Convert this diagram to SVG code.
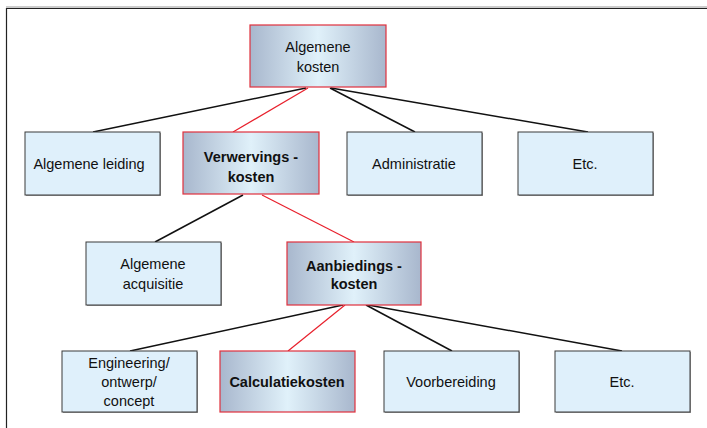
<svg xmlns="http://www.w3.org/2000/svg" width="707" height="428" viewBox="0 0 707 428">
  <defs>
    <linearGradient id="steel" x1="0" y1="0" x2="1" y2="0">
      <stop offset="0" stop-color="#a8b7cd"/>
      <stop offset="0.5" stop-color="#e0f1fa"/>
      <stop offset="1" stop-color="#a8b7cd"/>
    </linearGradient>
  </defs>
  <style>
    .plain { fill: #dff0fb; stroke: #3a3a3a; stroke-width: 1; }
    .hi { fill: url(#steel); stroke: #e0303c; stroke-width: 1.2; }
    .shadow { fill: #9a9a9a; }
    text { font-family: "Liberation Sans", Arial, sans-serif; font-size: 14.5px; fill: #111; text-anchor: middle; }
    .b { font-weight: bold; }
    .k { stroke: #111; stroke-width: 1.5; fill: none; }
    .r { stroke: #e8202c; stroke-width: 1.2; fill: none; }
  </style>
  <rect width="707" height="428" fill="#ffffff"/>
  <!-- frame -->
  <line x1="6" y1="7" x2="707" y2="7" stroke="#999" stroke-width="1"/>
  <line x1="6" y1="8.5" x2="707" y2="8.5" stroke="#222" stroke-width="1.2"/>
  <line x1="6.5" y1="8" x2="6.5" y2="428" stroke="#222" stroke-width="1.2"/>

  <g id="connectors">
    <line class="k" x1="306" y1="88" x2="93" y2="132"/>
    <line class="r" x1="308" y1="88" x2="233" y2="132"/>
    <line class="k" x1="330" y1="88" x2="415" y2="132"/>
    <line class="k" x1="331" y1="88" x2="588" y2="132"/>
    <line class="k" x1="243" y1="195" x2="155" y2="242"/>
    <line class="r" x1="262" y1="195" x2="354" y2="242"/>
    <line class="k" x1="343" y1="305" x2="130" y2="351"/>
    <line class="r" x1="345" y1="305" x2="288" y2="351"/>
    <line class="k" x1="366" y1="305" x2="452" y2="351"/>
    <line class="k" x1="368" y1="305" x2="622" y2="351"/>
  </g>

  <g id="algemene-kosten">
    <rect class="hi" x="250" y="25" width="136" height="62"/>
    <text x="318" y="52">Algemene</text>
    <text x="318" y="72">kosten</text>
  </g>

  <g id="algemene-leiding">
    <rect class="shadow" x="26" y="133" width="135" height="63"/>
    <rect class="plain" x="25" y="132" width="135" height="63"/>
    <text x="89" y="169">Algemene leiding</text>
  </g>

  <g id="verwervingskosten">
    <rect class="hi" x="183" y="132" width="136" height="62"/>
    <text class="b" x="251" y="162">Verwervings -</text>
    <text class="b" x="251" y="182">kosten</text>
  </g>

  <g id="administratie">
    <rect class="shadow" x="348" y="133" width="135" height="63"/>
    <rect class="plain" x="347" y="132" width="135" height="63"/>
    <text x="414" y="169">Administratie</text>
  </g>

  <g id="etc-1">
    <rect class="shadow" x="519" y="133" width="135" height="63"/>
    <rect class="plain" x="518" y="132" width="135" height="63"/>
    <text x="585" y="169">Etc.</text>
  </g>

  <g id="algemene-acquisitie">
    <rect class="shadow" x="87" y="243" width="135" height="63"/>
    <rect class="plain" x="86" y="242" width="135" height="63"/>
    <text x="153" y="269">Algemene</text>
    <text x="153" y="289">acquisitie</text>
  </g>

  <g id="aanbiedingskosten">
    <rect class="hi" x="287" y="242" width="134" height="63"/>
    <text class="b" x="354" y="271">Aanbiedings -</text>
    <text class="b" x="354" y="289">kosten</text>
  </g>

  <g id="engineering">
    <rect class="shadow" x="63" y="352" width="135" height="61"/>
    <rect class="plain" x="62" y="351" width="135" height="61"/>
    <text x="129" y="368">Engineering/</text>
    <text x="129" y="387">ontwerp/</text>
    <text x="129" y="406">concept</text>
  </g>

  <g id="calculatiekosten">
    <rect class="hi" x="220" y="351" width="135" height="61"/>
    <text class="b" x="287" y="387">Calculatiekosten</text>
  </g>

  <g id="voorbereiding">
    <rect class="shadow" x="385" y="352" width="135" height="61"/>
    <rect class="plain" x="384" y="351" width="135" height="61"/>
    <text x="451" y="387">Voorbereiding</text>
  </g>

  <g id="etc-2">
    <rect class="shadow" x="556" y="352" width="135" height="61"/>
    <rect class="plain" x="555" y="351" width="135" height="61"/>
    <text x="622" y="387">Etc.</text>
  </g>
</svg>
